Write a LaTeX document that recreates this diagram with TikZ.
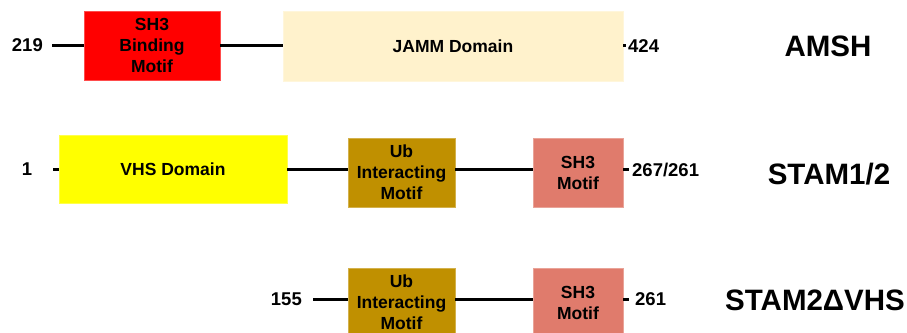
\documentclass[tikz,border=0pt]{standalone}
\usepackage{fontspec}
\setmainfont{Liberation Sans}
\begin{document}
\begin{tikzpicture}[x=1pt,y=-1pt,
  dom/.style={inner sep=0pt, align=center, font=\bfseries\fontsize{17.5}{21}\selectfont, draw=#1!70!white, line width=0.6pt},
  num/.style={inner sep=0pt, font=\bfseries\fontsize{18.5}{22}\selectfont},
  title/.style={inner sep=0pt, font=\bfseries\fontsize{29.5}{34}\selectfont},
  link/.style={line width=3pt, black}]
\clip (0,0) rectangle (907,332);
\fill[white] (0,0) rectangle (907,332);
\definecolor{sred}{HTML}{FF0000}
\definecolor{jamm}{HTML}{FFF2CC}
\definecolor{vhs}{HTML}{FFFF00}
\definecolor{uim}{HTML}{C09000}
\definecolor{shm}{HTML}{E07B6C}
% Row 1: AMSH
\node[dom=sred, fill=sred, minimum width=136pt, minimum height=69pt] (sh3b) at (152,45.5) {SH3\\Binding\\Motif};
\node[dom=jamm, fill=jamm, minimum width=340pt, minimum height=70pt] (jamm) at (453,46) {JAMM Domain};
\node[num, anchor=east] (n219) at (43,45) {219};
\node[num, anchor=west] (n424) at (628,46) {424};
\coordinate (a0) at (52,45);
\coordinate (a1) at (626,45);
\node[title] (amsh) at (828,46) {AMSH};
\draw[link] (a0) -- (sh3b.west |- a0);
\draw[link] (sh3b.east |- a0) -- (jamm.west |- a0);
\draw[link] (jamm.east |- a1) -- (a1);
% Row 2: STAM1/2
\node[dom=vhs, fill=vhs, minimum width=228pt, minimum height=68pt] (vhs) at (173,169) {VHS Domain};
\node[dom=uim, fill=uim, minimum width=107pt, minimum height=69pt] (uim1) at (401.5,172.5) {Ub\\Interacting\\Motif};
\node[dom=shm, fill=shm, minimum width=90pt, minimum height=69pt] (shm1) at (578,172.5) {SH3\\Motif};
\node[num] (n1) at (27,169) {1};
\node[num, anchor=west] (n267) at (632,170) {267/261};
\coordinate (b0) at (53,169);
\coordinate (b1) at (629,169);
\node[title] (stam) at (829,174) {STAM1/2};
\draw[link] (b0) -- (vhs.west |- b0);
\draw[link] (vhs.east |- b0) -- (uim1.west |- b0);
\draw[link] (uim1.east |- b0) -- (shm1.west |- b0);
\draw[link] (shm1.east |- b1) -- (b1);
% Row 3: STAM2dVHS
\node[dom=uim, fill=uim, minimum width=107pt, minimum height=69pt] (uim2) at (401.5,302.5) {Ub\\Interacting\\Motif};
\node[dom=shm, fill=shm, minimum width=90pt, minimum height=69pt] (shm2) at (578,302.5) {SH3\\Motif};
\node[num, anchor=east] (n155) at (302,299) {155};
\node[num, anchor=west] (n261) at (635,299) {261};
\coordinate (c0) at (313,299);
\coordinate (c1) at (629,299);
\node[title] (stamd) at (815,300) {STAM2ΔVHS};
\draw[link] (c0) -- (uim2.west |- c0);
\draw[link] (uim2.east |- c0) -- (shm2.west |- c0);
\draw[link] (shm2.east |- c1) -- (c1);
\end{tikzpicture}
\end{document}
